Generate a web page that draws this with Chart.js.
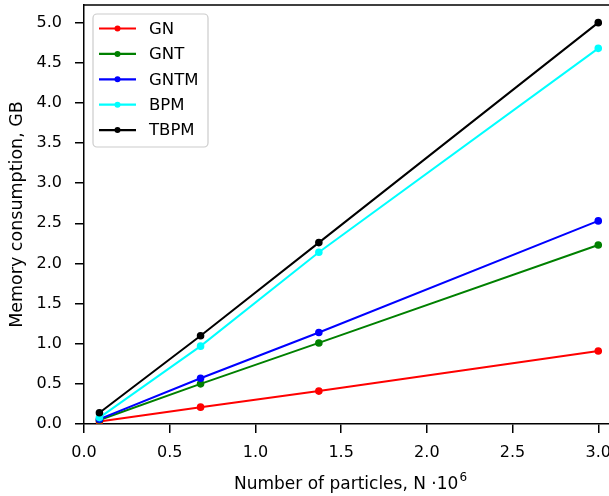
<!DOCTYPE html>
<html>
<head>
<meta charset="utf-8">
<script src="https://cdn.jsdelivr.net/npm/chart.js@4"></script>
<style>
  html, body { margin: 0; padding: 0; background: #fff; overflow: hidden; }
  #wrap { width: 628px; height: 496px; }
</style>
</head>
<body>
<div id="wrap"><canvas id="chart"></canvas></div>
<script>
const particles = [0.09, 0.68, 1.37, 3.0];
const seriesNames = ['GN', 'GNT', 'GNTM', 'BPM', 'TBPM'];
const seriesColors = ['#ff0000', '#008000', '#0000ff', '#00ffff', '#000000'];
const gn   = [0.03, 0.21, 0.41, 0.91];
const gnt  = [0.05, 0.50, 1.01, 2.23];
const gntm = [0.06, 0.57, 1.14, 2.53];
const bpm  = [0.08, 0.97, 2.14, 4.68];
const tbpm = [0.14, 1.10, 2.26, 5.00];
const seriesValues = [gn, gnt, gntm, bpm, tbpm];
const xTitle = 'Number of particles, N ·10';
const xTitleExp = '6';

const font = { family: 'DejaVu Sans', size: 16 };

// matplotlib style legend box, top spine and x label with exponent
const mplLegend = {
  id: 'mplLegend',
  afterDraw(chart) {
    const ctx = chart.ctx;
    const a = chart.chartArea;
    ctx.save();
    ctx.strokeStyle = '#000';
    ctx.lineWidth = 1.5;
    ctx.beginPath();
    ctx.moveTo(a.left, a.top);
    ctx.lineTo(a.right, a.top);
    ctx.lineTo(a.right, a.bottom);
    ctx.stroke();

    // x title
    ctx.fillStyle = '#000';
    ctx.textBaseline = 'alphabetic';
    ctx.font = '17px "DejaVu Sans"';
    const w1 = ctx.measureText(xTitle).width;
    ctx.font = '12px "DejaVu Sans"';
    const w2 = ctx.measureText(xTitleExp).width;
    const x0 = 350 - (w1 + w2) / 2;
    ctx.font = '17px "DejaVu Sans"';
    ctx.fillText(xTitle, x0, 489);
    ctx.font = '12px "DejaVu Sans"';
    ctx.fillText(xTitleExp, x0 + w1 + 1, 481);

    const x = 93, y = 14, w = 115, h = 133, r = 4;
    ctx.beginPath();
    ctx.roundRect(x, y, w, h, r);
    ctx.fillStyle = 'rgba(255,255,255,0.8)';
    ctx.fill();
    ctx.strokeStyle = '#cccccc';
    ctx.lineWidth = 1.2;
    ctx.stroke();

    ctx.font = '16.5px "DejaVu Sans"';
    ctx.textBaseline = 'middle';
    seriesNames.forEach((name, i) => {
      const ry = 28.5 + i * 25.4;
      ctx.strokeStyle = seriesColors[i];
      ctx.lineWidth = 2.2;
      ctx.beginPath();
      ctx.moveTo(99, ry);
      ctx.lineTo(136, ry);
      ctx.stroke();
      ctx.fillStyle = seriesColors[i];
      ctx.beginPath();
      ctx.arc(117.5, ry, 3, 0, Math.PI * 2);
      ctx.fill();
      ctx.fillStyle = '#000';
      ctx.fillText(name, 149, ry + 1);
    });
    ctx.restore();
  }
};

new Chart(document.getElementById('chart'), {
  type: 'line',
  data: {
    datasets: seriesNames.map((name, i) => ({
      label: name,
      data: particles.map((p, j) => ({ x: p, y: seriesValues[i][j] })),
      borderColor: seriesColors[i],
      backgroundColor: seriesColors[i],
      borderWidth: 2,
      pointRadius: 2.8,
      pointHoverRadius: 2.8,
      tension: 0,
      fill: false,
      order: seriesNames.length - i
    }))
  },
  options: {
    responsive: true,
    maintainAspectRatio: false,
    animation: false,
    layout: { padding: { top: 5, left: 0, right: 4, bottom: 0 } },
    plugins: { legend: { display: false }, tooltip: { enabled: false } },
    scales: {
      x: {
        type: 'linear',
        min: 0,
        max: 3.1455,
        afterFit(scale) {
          scale.height = 72;
          scale.paddingLeft = 0;
          scale.paddingRight = 0;
        },
        afterBuildTicks(scale) {
          scale.ticks = [0, 0.5, 1, 1.5, 2, 2.5, 3].map(v => ({ value: v }));
        },
        ticks: {
          color: '#000',
          font: font,
          padding: 10,
          maxRotation: 0,
          callback: v => v.toFixed(1)
        },
        grid: { drawOnChartArea: false, drawTicks: true, tickLength: 9, color: '#000', lineWidth: 1.5 },
        border: { color: '#000', width: 1.5 }
      },
      y: {
        min: 0,
        max: 5.22,
        afterFit(scale) {
          scale.width = 84;
          scale.paddingTop = 0;
          scale.paddingBottom = 0;
        },
        afterBuildTicks(scale) {
          scale.ticks = [0, 0.5, 1, 1.5, 2, 2.5, 3, 3.5, 4, 4.5, 5].map(v => ({ value: v }));
        },
        ticks: {
          color: '#000',
          font: font,
          padding: 13,
          callback: v => v.toFixed(1)
        },
        grid: { drawOnChartArea: false, drawTicks: true, tickLength: 9, color: '#000', lineWidth: 1.5 },
        border: { color: '#000', width: 1.5 },
        title: {
          display: true,
          text: 'Memory consumption, GB',
          color: '#000',
          font: { family: 'DejaVu Sans', size: 17.5 },
          padding: { top: 7, bottom: 0 }
        }
      }
    }
  },
  plugins: [mplLegend]
});
</script>
</body>
</html>
